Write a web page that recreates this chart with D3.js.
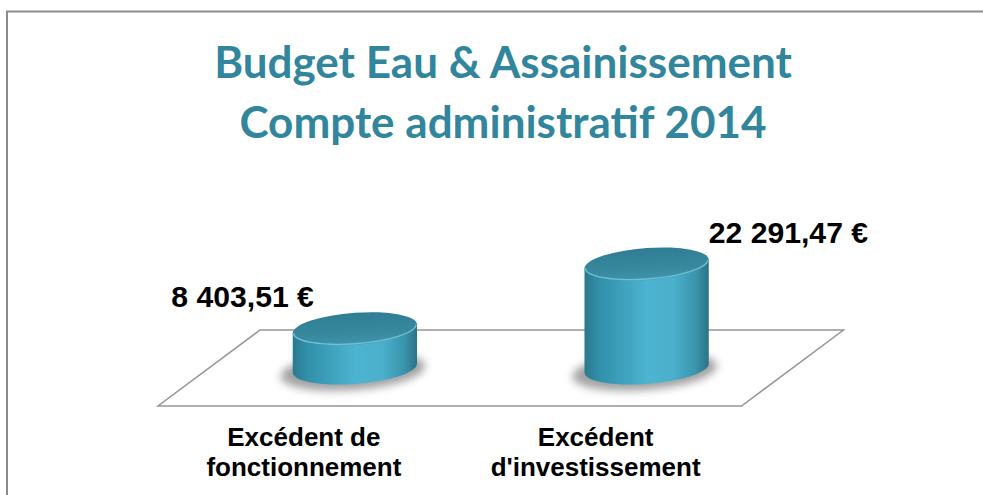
<!DOCTYPE html>
<html>
<head>
<meta charset="utf-8">
<script src="https://cdn.jsdelivr.net/npm/d3@7"></script>
<style>
  html, body { margin: 0; padding: 0; background: #fff; }
  svg { display: block; }
</style>
</head>
<body>
<div class="content"></div>
<script>
const SVG_W = 983;
const SVG_H = 495;

// chart data
const categories = ["Excédent de fonctionnement", "Excédent d'investissement"];
const categoryLines = [["Excédent de", "fonctionnement"], ["Excédent", "d'investissement"]];
const values = [8403.51, 22291.47];
const titleLines = ["Budget Eau & Assainissement", "Compte administratif 2014"];

const fr = d3.formatLocale({decimal: ",", thousands: "\u00a0", grouping: [3], currency: ["", "\u00a0€"]});
const fmt = fr.format("$,.2f");

const svg = d3.select(".content").append("svg").attr("width", SVG_W).attr("height", SVG_H);
const defs = svg.append("defs");

// gradients of the cylinders
let sideGrad = defs.append("linearGradient").attr("id", "side").attr("x1", 0).attr("x2", 1).attr("y1", 0).attr("y2", 0);
[[0, "#2a798f"], [0.12, "#3190aa"], [0.5, "#4cb3d0"], [0.72, "#4ab0cc"], [0.9, "#3a93ab"], [1, "#2a7388"]]
    .forEach(s => sideGrad.append("stop").attr("offset", s[0]).attr("stop-color", s[1]));
let topGrad = defs.append("linearGradient").attr("id", "topface").attr("x1", 0).attr("x2", 0).attr("y1", 0).attr("y2", 1);
[[0, "#2f7e93"], [0.6, "#37879d"], [1, "#3f95ac"]]
    .forEach(s => topGrad.append("stop").attr("offset", s[0]).attr("stop-color", s[1]));
defs.append("filter").attr("id", "blur").attr("x", "-50%").attr("y", "-50%").attr("width", "200%").attr("height", "200%")
    .append("feGaussianBlur").attr("stdDeviation", 4);

// chart frame
svg.append("path").attr("d", "M7," + SVG_H + "V11.5H" + SVG_W)
    .attr("fill", "none").attr("stroke", "#8c8c8c").attr("stroke-width", 2);

// title
svg.append("g").selectAll("text").data(titleLines).join("text")
    .attr("x", 503).attr("y", (d, i) => 78 + i * 60)
    .attr("text-anchor", "middle")
    .attr("font-family", "Lato, 'Open Sans', sans-serif").attr("font-weight", "bold")
    .attr("font-size", 44).attr("fill", "#31859c")
    .text(d => d);

// scales: midline of the floor, and its front edge for the category labels
const floorY = 368, depth = 38, shear = 51;
const xscale = d3.scalePoint().domain(categories).range([209, 792.5]).padding(0.5);
const xfront = d3.scalePoint().domain(categories).range([209 - shear, 792.5 - shear]).padding(0.5);
const yscale = d3.scaleLinear().domain([0, 25000]).range([floorY, floorY - 116.6]);
const rx = xscale.step() * 0.213, ry = 16;

// floor
const [r0, r1] = xscale.range();
svg.append("path")
    .attr("d", d3.line()([[r0 + shear, floorY - depth], [r1 + shear, floorY - depth], [r1 - shear, floorY + depth], [r0 - shear, floorY + depth]]) + "Z")
    .attr("fill", "none").attr("stroke", "#969696").attr("stroke-width", 1.5);

// cylinders
const data = categories.map((c, i) => ({cat: c, value: values[i], i: i}));
const cyl = svg.append("g").selectAll("g").data(data).join("g")
    .attr("transform", d => "translate(" + xscale(d.cat) + "," + floorY + ") skewY(-4)");

cyl.append("ellipse").attr("cx", -2).attr("cy", 3).attr("rx", rx + 10).attr("ry", ry + 3)
    .attr("fill", "#6e6e6e").attr("opacity", 0.65).attr("filter", "url(#blur)");

cyl.append("path")
    .attr("d", d => {
        let h = yscale(d.value) - floorY;
        return "M" + (-rx) + "," + h + "L" + (-rx) + ",0A" + rx + "," + ry + " 0 0 0 " + rx + ",0L" + rx + "," + h + "Z";
    })
    .attr("fill", "url(#side)");

cyl.append("ellipse").attr("cx", 0).attr("cy", d => yscale(d.value) - floorY)
    .attr("rx", rx).attr("ry", ry).attr("fill", "url(#topface)");

// light rim on the front of the top face
cyl.append("path")
    .attr("d", d => {
        let h = yscale(d.value) - floorY;
        return "M" + (-rx + 1) + "," + h + "A" + (rx - 1) + "," + (ry - 1) + " 0 0 0 " + (rx - 1) + "," + h;
    })
    .attr("fill", "none").attr("stroke", "#7ccbe0").attr("stroke-width", 1.4).attr("opacity", 0.8);

// value labels
svg.append("g").selectAll("g").data(data).join("g")
    .attr("transform", d => {
        let x = d.i === 0 ? xscale(d.cat) - 41 : xscale(d.cat) + rx;
        return "translate(" + x + "," + (yscale(d.value) - ry - (d.i === 0 ? 6 : 5)) + ") scale(1.04,1)";
    })
    .append("text")
    .attr("text-anchor", d => d.i === 0 ? "end" : "start")
    .attr("font-family", "'Liberation Sans', Arial, sans-serif").attr("font-weight", "bold")
    .attr("font-size", 29).attr("fill", "#000")
    .text(d => fmt(d.value));

// category labels
const cat = svg.append("g").selectAll("text").data(data).join("text")
    .attr("text-anchor", "middle")
    .attr("font-family", "'Liberation Sans', Arial, sans-serif").attr("font-weight", "bold")
    .attr("font-size", 26).attr("fill", "#000");
cat.selectAll("tspan").data(d => categoryLines[d.i].map(t => ({t: t, x: xfront(d.cat)}))).join("tspan")
    .attr("x", d => d.x).attr("y", (d, j) => floorY + depth + 40 + j * 30)
    .text(d => d.t);
</script>
</body>
</html>
